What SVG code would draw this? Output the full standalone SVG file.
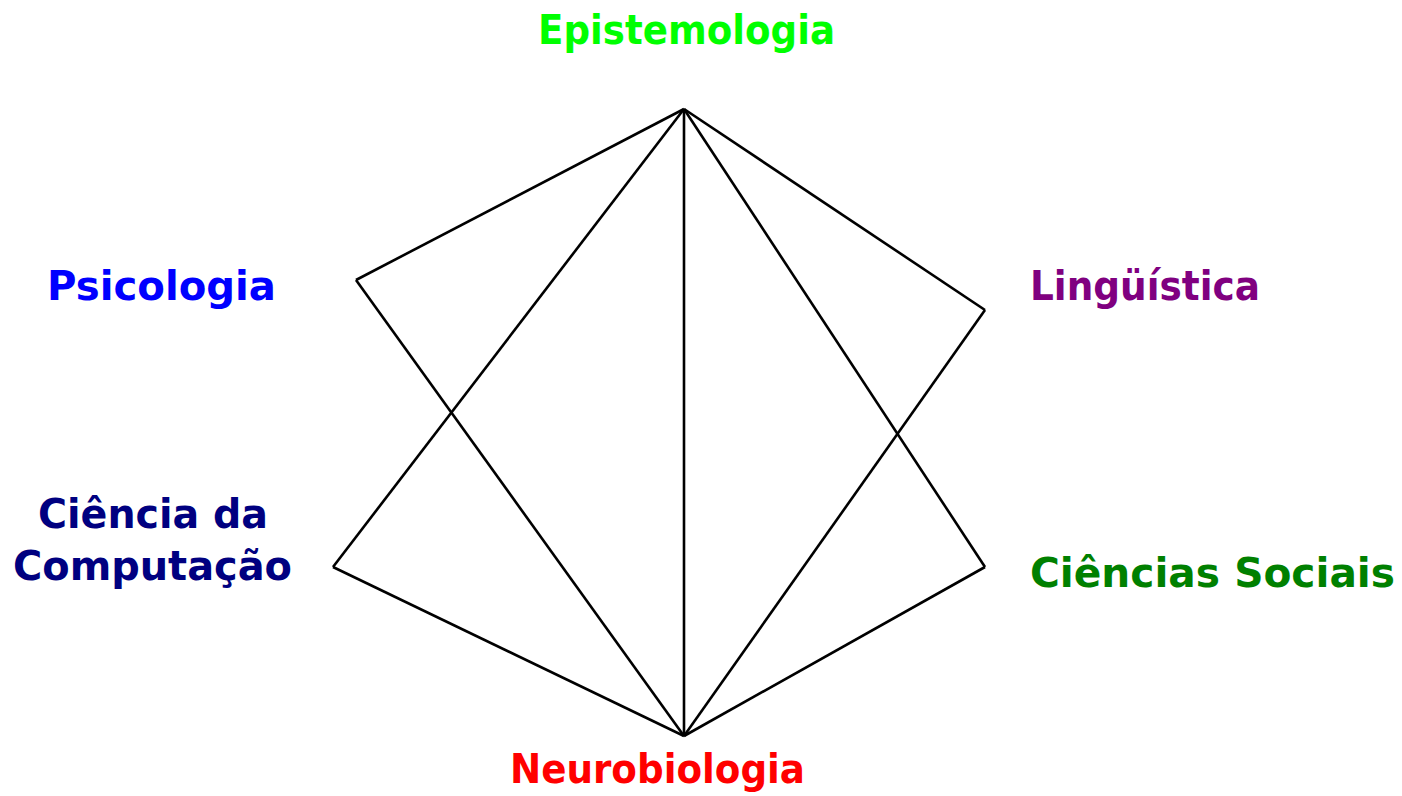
<svg xmlns="http://www.w3.org/2000/svg" width="1402" height="796" viewBox="0 0 1402 796">
<style>
text{font-family:"DejaVu Sans","Verdana",sans-serif;font-weight:bold;font-size:41px}
.ln{stroke:#000;stroke-width:2.6;fill:none}
</style>
<rect width="1402" height="796" fill="#fff"/>
<g id="connectors">
<line class="ln" x1="684" y1="109" x2="356" y2="280"/>
<line class="ln" x1="356" y1="280" x2="684" y2="736"/>
<line class="ln" x1="684" y1="109" x2="333" y2="567"/>
<line class="ln" x1="333" y1="567" x2="684" y2="736"/>
<line class="ln" x1="684" y1="109" x2="684" y2="736"/>
<line class="ln" x1="684" y1="109" x2="985" y2="310"/>
<line class="ln" x1="985" y1="310" x2="684" y2="736"/>
<line class="ln" x1="684" y1="109" x2="985" y2="567"/>
<line class="ln" x1="985" y1="567" x2="684" y2="736"/>
</g>
<g id="epistemologia"><text x="538" y="44" textLength="297" lengthAdjust="spacingAndGlyphs" fill="#00ff00">Epistemologia</text></g>
<g id="psicologia"><text x="47" y="300" textLength="229" lengthAdjust="spacingAndGlyphs" fill="#0000ff">Psicologia</text></g>
<g id="ciencia-computacao"><text x="38" y="528" textLength="230" lengthAdjust="spacingAndGlyphs" fill="#000080">Ciência da</text><text x="13" y="580" textLength="279" lengthAdjust="spacingAndGlyphs" fill="#000080">Computação</text></g>
<g id="linguistica"><text x="1030" y="300" textLength="230" lengthAdjust="spacingAndGlyphs" fill="#800080">Lingüística</text></g>
<g id="ciencias-sociais"><text x="1030" y="587" textLength="365" lengthAdjust="spacingAndGlyphs" fill="#008000">Ciências Sociais</text></g>
<g id="neurobiologia"><text x="510" y="783" textLength="295" lengthAdjust="spacingAndGlyphs" fill="#ff0000">Neurobiologia</text></g>
</svg>
